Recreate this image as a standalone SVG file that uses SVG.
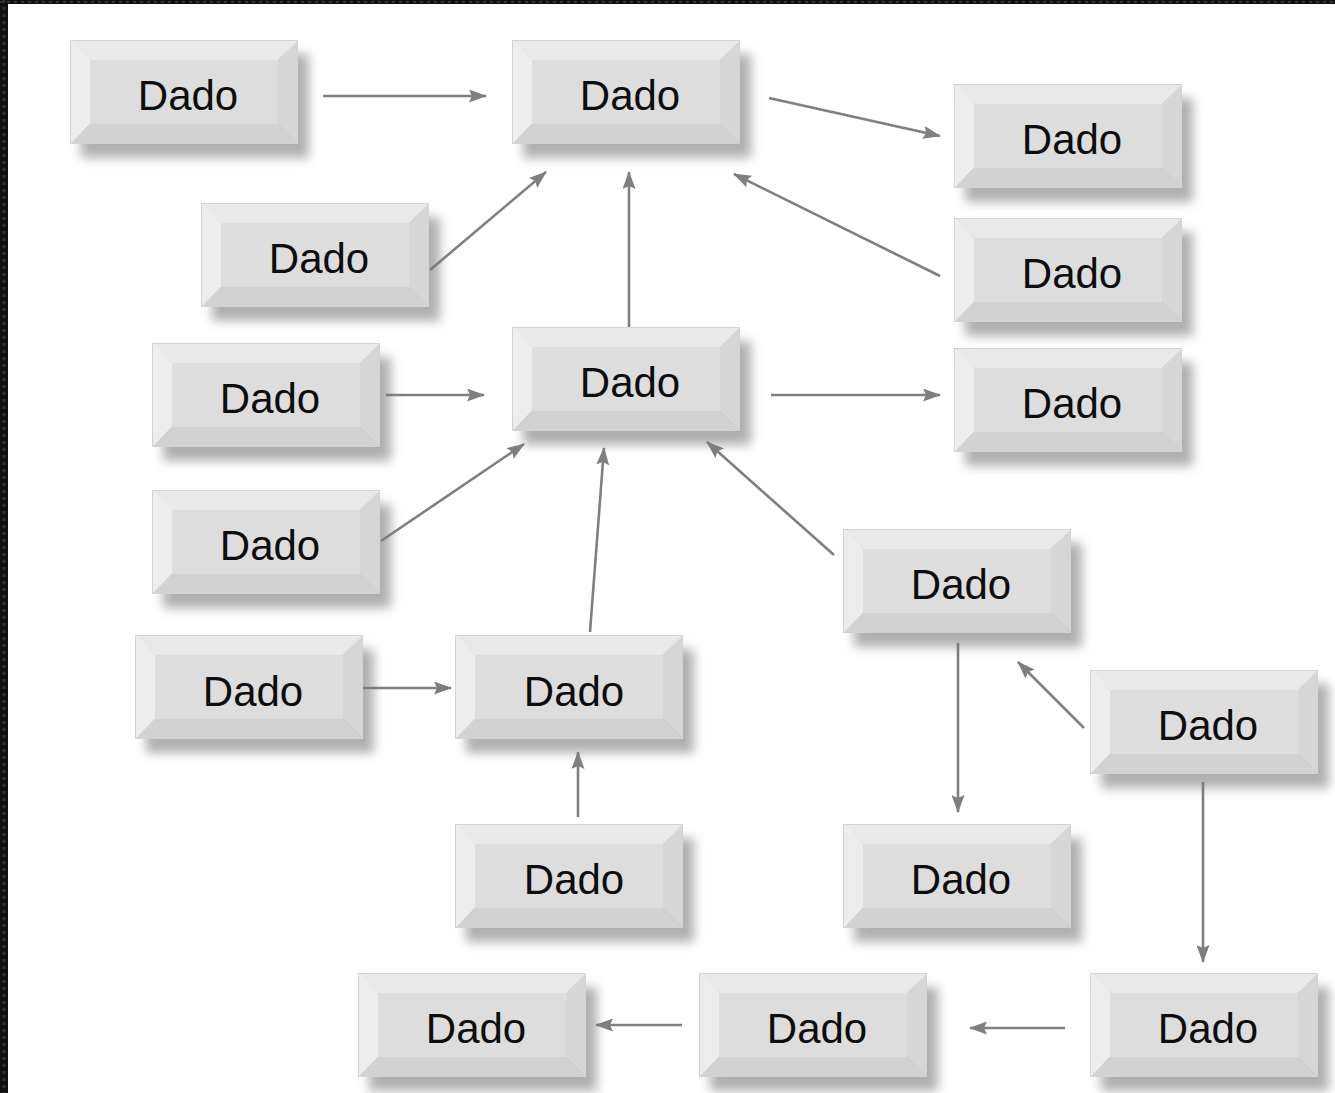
<svg xmlns="http://www.w3.org/2000/svg" xmlns:xlink="http://www.w3.org/1999/xlink" width="1335" height="1093" viewBox="0 0 1335 1093">
<style>
.lbl{font-family:"Liberation Sans",Arial,sans-serif;font-size:42px;fill:#0d0d0d;text-anchor:middle}
.conn line{stroke:#7f7f7f;stroke-width:2.6;marker-end:url(#ah)}
</style>
<defs>
<filter id="blur" x="-20%" y="-30%" width="140%" height="160%"><feGaussianBlur stdDeviation="5.5"/></filter>
<marker id="ah" viewBox="0 0 18 13" refX="17" refY="6.5" markerWidth="18" markerHeight="13" markerUnits="userSpaceOnUse" orient="auto">
<path d="M0,0 L18,6.5 L0,13 L3,6.5 Z" fill="#7f7f7f"/>
</marker>
<g id="box">
<rect x="11" y="14" width="228" height="104" fill="#7a7a7a" opacity="0.6" filter="url(#blur)"/>
<polygon points="0,0 228,0 208,20 20,20" fill="#e9e9e9"/>
<polygon points="0,0 20,20 20,84 0,104" fill="#ededed"/>
<polygon points="228,0 228,104 208,84 208,20" fill="#d6d6d6"/>
<polygon points="0,104 20,84 208,84 228,104" fill="#d2d2d2"/>
<rect x="20" y="20" width="188" height="64" fill="#dddddd"/>
<rect x="0.5" y="0.5" width="227" height="103" fill="none" stroke="#d3d3d3" stroke-width="1"/>
</g>
</defs>
<rect width="1335" height="1093" fill="#fff"/>
<g id="frame">
<rect x="0" y="0" width="8" height="1093" fill="#111"/>
<rect x="0" y="0" width="1335" height="4" fill="#111"/>
<line x1="4" y1="0" x2="4" y2="1093" stroke="#333" stroke-width="3" stroke-dasharray="3 4"/>
<line x1="0" y1="2" x2="1335" y2="2" stroke="#333" stroke-width="2" stroke-dasharray="3 4"/>
</g>
<g class="conn" id="connectors">
<line x1="323" y1="96" x2="486" y2="96"/>
<line x1="769" y1="98" x2="940" y2="136"/>
<line x1="430" y1="270" x2="546" y2="172"/>
<line x1="629" y1="327" x2="629" y2="172"/>
<line x1="940" y1="276" x2="734" y2="174"/>
<line x1="386" y1="395" x2="484" y2="395"/>
<line x1="771" y1="395" x2="940" y2="395"/>
<line x1="381" y1="541" x2="524" y2="444"/>
<line x1="590" y1="632" x2="604" y2="448"/>
<line x1="834" y1="555" x2="707" y2="442"/>
<line x1="362" y1="688" x2="451" y2="688"/>
<line x1="578" y1="817" x2="578" y2="752"/>
<line x1="958" y1="643" x2="958" y2="812"/>
<line x1="1084" y1="728" x2="1018" y2="662"/>
<line x1="1203" y1="782" x2="1203" y2="962"/>
<line x1="1065" y1="1028" x2="970" y2="1028"/>
<line x1="682" y1="1025" x2="596" y2="1025"/>
</g>
<g id="n1"><use xlink:href="#box" x="70" y="40"/><text class="lbl" x="188" y="110">Dado</text></g>
<g id="n2"><use xlink:href="#box" x="512" y="40"/><text class="lbl" x="630" y="110">Dado</text></g>
<g id="n3"><use xlink:href="#box" x="954" y="84"/><text class="lbl" x="1072" y="154">Dado</text></g>
<g id="n4"><use xlink:href="#box" x="201" y="203"/><text class="lbl" x="319" y="273">Dado</text></g>
<g id="n5"><use xlink:href="#box" x="954" y="218"/><text class="lbl" x="1072" y="288">Dado</text></g>
<g id="n6"><use xlink:href="#box" x="152" y="343"/><text class="lbl" x="270" y="413">Dado</text></g>
<g id="n7"><use xlink:href="#box" x="512" y="327"/><text class="lbl" x="630" y="397">Dado</text></g>
<g id="n8"><use xlink:href="#box" x="954" y="348"/><text class="lbl" x="1072" y="418">Dado</text></g>
<g id="n9"><use xlink:href="#box" x="152" y="490"/><text class="lbl" x="270" y="560">Dado</text></g>
<g id="n10"><use xlink:href="#box" x="843" y="529"/><text class="lbl" x="961" y="599">Dado</text></g>
<g id="n11"><use xlink:href="#box" x="135" y="635"/><text class="lbl" x="253" y="706">Dado</text></g>
<g id="n12"><use xlink:href="#box" x="455" y="635"/><text class="lbl" x="574" y="706">Dado</text></g>
<g id="n13"><use xlink:href="#box" x="1090" y="670"/><text class="lbl" x="1208" y="740">Dado</text></g>
<g id="n14"><use xlink:href="#box" x="455" y="824"/><text class="lbl" x="574" y="894">Dado</text></g>
<g id="n15"><use xlink:href="#box" x="843" y="824"/><text class="lbl" x="961" y="894">Dado</text></g>
<g id="n16"><use xlink:href="#box" x="358" y="973"/><text class="lbl" x="476" y="1043">Dado</text></g>
<g id="n17"><use xlink:href="#box" x="699" y="973"/><text class="lbl" x="817" y="1043">Dado</text></g>
<g id="n18"><use xlink:href="#box" x="1090" y="973"/><text class="lbl" x="1208" y="1043">Dado</text></g>
</svg>
